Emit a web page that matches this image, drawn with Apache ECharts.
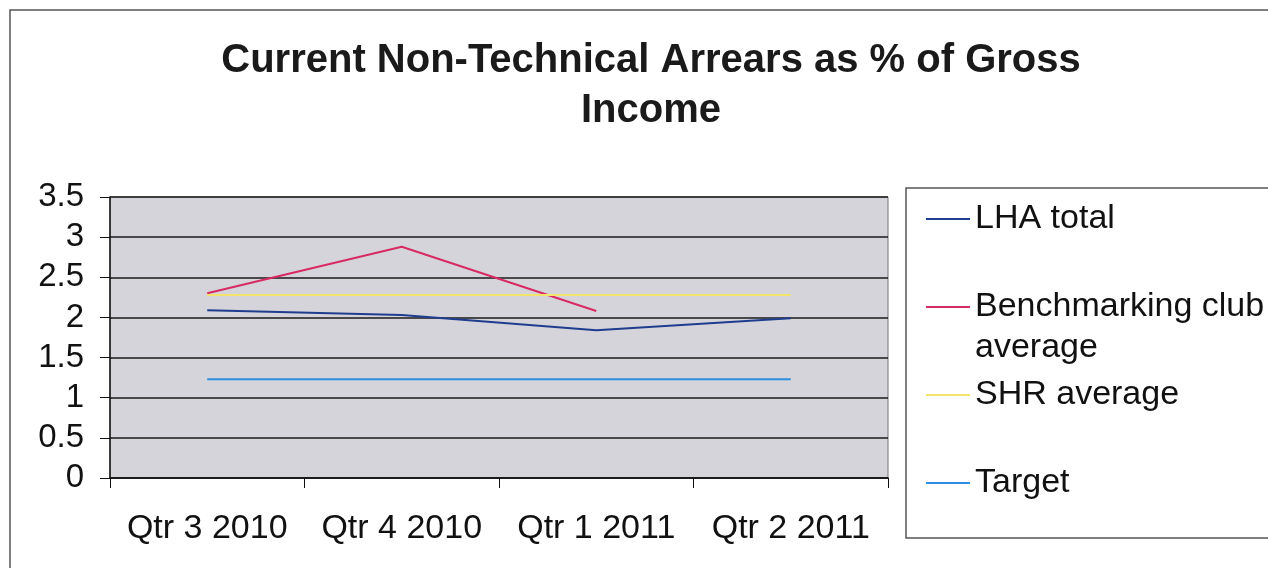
<!DOCTYPE html>
<html>
<head>
<meta charset="utf-8">
<script src="https://cdn.jsdelivr.net/npm/echarts@6/dist/echarts.min.js"></script>
<style>
  html, body { margin: 0; padding: 0; background: #fff; }
  #chart { width: 1268px; height: 568px; }
</style>
</head>
<body>
<div id="chart"></div>
<script>
const quarters = ['Qtr 3 2010', 'Qtr 4 2010', 'Qtr 1 2011', 'Qtr 2 2011']
const lhaTotal = [2.09, 2.03, 1.84, 1.99]
const benchmarkAvg = [2.3, 2.88, 2.08, null]
const shrAvg = [2.28, 2.28, 2.28, 2.28]
const target = [1.23, 1.23, 1.23, 1.23]

const FONT = "'Liberation Sans', Arial, sans-serif"

const seriesDefs = [
  { name: 'LHA total', data: lhaTotal, color: '#1f3d8f' },
  { name: 'Benchmarking club average', data: benchmarkAvg, color: '#d82a62' },
  { name: 'SHR average', data: shrAvg, color: '#f2e46a' },
  { name: 'Target', data: target, color: '#2b8ee0' }
]

// one legend per entry so each line sits where the original puts it
function legendAt(name, top, extra) {
  return Object.assign({
    data: [name],
    orient: 'vertical',
    left: 920,
    top: top,
    itemWidth: 44,
    itemHeight: 14,
    selectedMode: false,
    itemStyle: { opacity: 0 },
    lineStyle: { width: 2 },
    textStyle: { color: '#111', fontSize: 34, fontFamily: FONT, lineHeight: 41 }
  }, extra || {})
}

const chart = echarts.init(document.getElementById('chart'), null, { renderer: 'canvas' })

chart.setOption({
  backgroundColor: '#fff',
  animation: false,
  title: {
    text: 'Current Non-Technical Arrears as % of Gross\nIncome',
    left: 646,
    top: 31,
    textAlign: 'center',
    textStyle: { color: '#1a1a1a', fontSize: 40, fontWeight: 'bold', fontFamily: FONT, lineHeight: 50 }
  },
  graphic: [
    { type: 'rect', shape: { x: 10, y: 10, width: 1300, height: 600 }, style: { fill: 'none', stroke: '#555', lineWidth: 1.5 }, z: -1 },
    { type: 'rect', shape: { x: 906, y: 188, width: 400, height: 350 }, style: { fill: 'none', stroke: '#555', lineWidth: 1.5 }, z: -1 }
  ],
  legend: [
    legendAt('LHA total', 214 - 20.5),
    // blank first line keeps the marker level with the first text line
    legendAt('Benchmarking club average', 302 - 61.5, {
      formatter: () => '\nBenchmarking club\naverage'
    }),
    legendAt('SHR average', 390 - 20.5),
    legendAt('Target', 478 - 20.5)
  ],
  grid: {
    left: 110, right: 380, top: 197, bottom: 90,
    show: true, backgroundColor: '#d6d4db', borderColor: '#777', borderWidth: 1
  },
  xAxis: {
    type: 'category',
    data: quarters,
    boundaryGap: true,
    axisLine: { lineStyle: { color: '#111', width: 1.5 } },
    axisTick: { show: true, interval: 0, length: 10, lineStyle: { color: '#111' } },
    axisLabel: { color: '#111', fontSize: 34, fontFamily: FONT, margin: 34, interval: 0 }
  },
  yAxis: {
    type: 'value',
    min: 0, max: 3.5, interval: 0.5,
    axisLine: { show: true, lineStyle: { color: '#111', width: 1.5 } },
    axisTick: { show: true, length: 10, lineStyle: { color: '#111' } },
    axisLabel: { color: '#111', fontSize: 33, fontFamily: FONT, margin: 26 },
    splitLine: { lineStyle: { color: '#1a1a1a', width: 1.5 } }
  },
  series: seriesDefs.map(s => ({
    name: s.name,
    type: 'line',
    data: s.data,
    symbol: 'none',
    connectNulls: false,
    color: s.color,
    lineStyle: { color: s.color, width: 2 }
  }))
})
</script>
</body>
</html>
